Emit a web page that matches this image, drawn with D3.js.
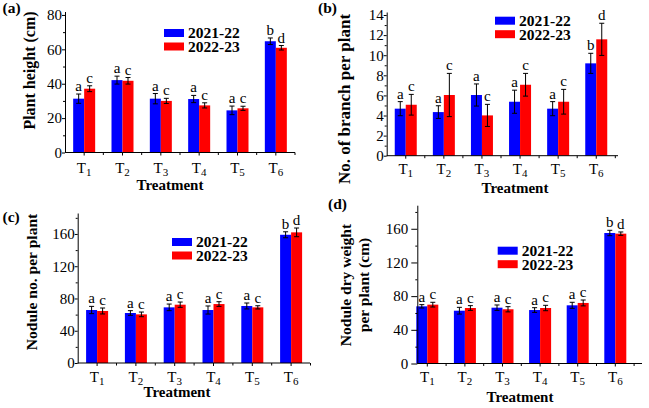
<!DOCTYPE html>
<html>
<head>
<meta charset="utf-8">
<script src="https://cdn.jsdelivr.net/npm/d3@7"></script>
<style>
  body { margin: 0; background: #fff; }
  svg { display: block; }
  text { font-family: "Liberation Serif", "Times New Roman", serif; }
</style>
</head>
<body>
<div id="chart"></div>
<script>
// treatments and the two seasons
const treatments = ["T1", "T2", "T3", "T4", "T5", "T6"];
const seasons = ["2021-22", "2022-23"];
const letters2122 = ["a", "a", "a", "a", "a", "b"];
const letters2223 = ["c", "c", "c", "c", "c", "d"];

// (a) plant height (cm)
const height2122 = [31.3, 42.1, 31.3, 31.1, 24.5, 64.7];
const heightErr2122 = [2.7, 2.3, 3.0, 2.1, 2.5, 1.9];
const height2223 = [37.1, 41.7, 30.0, 27.4, 25.7, 60.9];
const heightErr2223 = [1.7, 1.9, 1.5, 1.5, 1.2, 1.3];

// (b) no. of branch per plant
const branch2122 = [4.68, 4.34, 6.04, 5.37, 4.68, 9.19];
const branchErr2122 = [0.7, 0.63, 1.1, 1.15, 0.7, 1.0];
const branch2223 = [5.07, 6.04, 4.01, 7.06, 5.37, 11.58];
const branchErr2223 = [1.03, 2.15, 1.1, 1.13, 1.23, 1.6];

// (c) nodule no. per plant
const nodule2122 = [65.7, 62.0, 69.0, 65.7, 70.7, 159];
const noduleErr2122 = [4.5, 2.9, 4.1, 5.0, 3.7, 3.7];
const nodule2223 = [64.5, 60.3, 72.3, 73.1, 69.0, 162];
const noduleErr2223 = [3.7, 2.9, 3.3, 2.9, 2.0, 5.4];

// (d) nodule dry weight per plant
const dry2122 = [67.9, 62.7, 66.3, 63.5, 69.1, 155];
const dryErr2122 = [2.0, 4.0, 3.2, 2.8, 3.6, 3.2];
const dry2223 = [69.9, 65.9, 64.4, 65.9, 71.9, 154.2];
const dryErr2223 = [2.8, 2.8, 3.1, 3.2, 3.5, 2.0];

// y tick values
const heightTicks = [0, 20, 40, 60, 80];
const heightMinor = [10, 30, 50, 70];
const branchTicks = [0, 2, 4, 6, 8, 10, 12, 14];
const branchMinor = [1, 3, 5, 7, 9, 11, 13];
const noduleTicks = [0, 40, 80, 120, 160];
const noduleMinor = [20, 60, 100, 140, 180];

const colors = ["#0000ff", "#ff0000"];
const barW = 11;

let svg = d3.select("#chart")
    .append("svg")
    .attr("width", 649)
    .attr("height", 408);

const panels = [
    {tag: "(a)", tagX: 2.5, tagY: 13,
     s1: height2122, e1: heightErr2122, s2: height2223, e2: heightErr2223,
     yMax: 82, yBottom: 152.5, yTop: 11.5, ticks: heightTicks, minor: heightMinor,
     xRange: [65, 295], axisX: 65, axisEnd: 295, tickSize: 3, tickPad: 0,
     tLabelY: 20.5, title: ["Plant height (cm)"], titleX: [34.5], titleY: 70.5, titleSize: 16,
     xLabelX: 170, xLabelY: 190, legX: 164, legY: 29},
    {tag: "(b)", tagX: 318, tagY: 13,
     s1: branch2122, e1: branchErr2122, s2: branch2223, e2: branchErr2223,
     yMax: 14.3, yBottom: 155.7, yTop: 12, ticks: branchTicks, minor: branchMinor,
     xRange: [386.7, 615.3], axisX: 386.7, axisEnd: 618, tickSize: 3, tickPad: 0,
     tLabelY: 18.5, title: ["No. of branch per plant"], titleX: [350], titleY: 99, titleSize: 17,
     xLabelX: 515, xLabelY: 193, legX: 495, legY: 16.7},
    {tag: "(c)", tagX: 2.5, tagY: 221.5,
     s1: nodule2122, e1: noduleErr2122, s2: nodule2223, e2: noduleErr2223,
     yMax: 186, yBottom: 363, yTop: 213, ticks: noduleTicks, minor: noduleMinor,
     xRange: [77.7, 310.5], axisX: 77.7, axisEnd: 310, tickSize: 3, tickPad: 0,
     tLabelY: 19.3, title: ["Nodule no. per plant"], titleX: [37], titleY: 282, titleSize: 15.6,
     xLabelX: 177, xLabelY: 397, legX: 172, legY: 238},
    {tag: "(d)", tagX: 328, tagY: 209,
     s1: dry2122, e1: dryErr2122, s2: dry2223, e2: dryErr2223,
     yMax: 188, yBottom: 363.5, yTop: 205.2, ticks: noduleTicks, minor: noduleMinor,
     xRange: [408.5, 634.1], axisX: 417.3, axisEnd: 642, tickSize: 6, tickPad: 3,
     tLabelY: 18, title: ["Nodule dry weight", "per plant (cm)"], titleX: [351, 369], titleY: 285, titleSize: 15.5,
     xLabelX: 520, xLabelY: 402, legX: 497.7, legY: 246.7}
];

panels.forEach(drawPanel);

function drawPanel(p) {
    let g = svg.append("g");

    let x = d3.scaleBand()
        .domain(treatments)
        .range(p.xRange);
    let y = d3.scaleLinear()
        .domain([0, p.yMax])
        .range([p.yBottom, p.yTop]);
    let cx = d => x(d) + x.bandwidth() / 2;

    // bars, both seasons
    let series = [
        {vals: p.s1, errs: p.e1, letters: letters2122, off: -barW},
        {vals: p.s2, errs: p.e2, letters: letters2223, off: 0}
    ];
    series.forEach(function(s, si) {
        g.append("g").selectAll("rect")
            .data(treatments)
            .enter()
            .append("rect")
            .attr("x", (d) => cx(d) + s.off)
            .attr("y", (d, i) => y(s.vals[i]))
            .attr("width", barW)
            .attr("height", (d, i) => y(0) - y(s.vals[i]))
            .attr("fill", colors[si]);
    });

    // error bars and letters on top
    series.forEach(function(s) {
        let eg = g.append("g").attr("stroke", "#000").attr("stroke-width", 1);
        treatments.forEach(function(t, i) {
            let mx = cx(t) + s.off + barW / 2;
            let top = y(s.vals[i] + s.errs[i]);
            let bot = y(s.vals[i] - s.errs[i]);
            eg.append("line").attr("x1", mx).attr("x2", mx).attr("y1", top).attr("y2", bot);
            eg.append("line").attr("x1", mx - 2.5).attr("x2", mx + 2.5).attr("y1", top).attr("y2", top);
            eg.append("line").attr("x1", mx - 2.5).attr("x2", mx + 2.5).attr("y1", bot).attr("y2", bot);
            g.append("text")
                .attr("x", mx)
                .attr("y", top - 3)
                .attr("text-anchor", "middle")
                .style("font-size", "15px")
                .text(s.letters[i]);
        });
    });

    // y axis with minor ticks
    let gy = g.append("g")
        .attr("transform", `translate(${p.axisX},0)`)
        .call(d3.axisLeft(y).tickValues(p.ticks).tickSize(p.tickSize).tickSizeOuter(0).tickPadding(p.tickPad));
    gy.selectAll("text").style("font-size", "15px").attr("fill", "#000")
        .style("font-family", '"Liberation Serif", "Times New Roman", serif');
    g.append("g")
        .attr("transform", `translate(${p.axisX},0)`)
        .call(d3.axisLeft(y).tickValues(p.minor).tickSize(2).tickSizeOuter(0).tickFormat(""))
        .select(".domain").remove();

    // x axis
    let gx = g.append("g")
        .attr("transform", `translate(0,${y(0)})`)
        .call(d3.axisBottom(x).tickSize(3).tickSizeOuter(0));
    gx.select(".domain").remove();
    gx.append("line")
        .attr("x1", p.axisX).attr("x2", p.axisEnd)
        .attr("stroke", "#000");
    gx.selectAll(".tick text")
        .text(null)
        .attr("y", p.tLabelY)
        .attr("dy", null)
        .attr("fill", "#000")
        .style("font-size", "15px")
        .style("font-family", '"Liberation Serif", "Times New Roman", serif')
        .each(function(d) {
            let t = d3.select(this);
            t.append("tspan").text(d.charAt(0));
            t.append("tspan").attr("dy", 3).style("font-size", "11px").text(d.slice(1));
        });
    // minor ticks between groups
    gx.append("g").selectAll("line")
        .data(treatments.slice(1).concat(["end"]))
        .enter()
        .append("line")
        .attr("x1", d => d === "end" ? p.xRange[1] : x(d))
        .attr("x2", d => d === "end" ? p.xRange[1] : x(d))
        .attr("y1", 0).attr("y2", 2.5)
        .attr("stroke", "#000");

    // axis titles
    p.title.forEach(function(line, li) {
        g.append("text")
            .attr("transform", `translate(${p.titleX[li]},${p.titleY}) rotate(-90)`)
            .attr("text-anchor", "middle")
            .style("font-size", p.titleSize + "px")
            .style("font-weight", "bold")
            .text(line);
    });
    g.append("text")
        .attr("x", p.xLabelX)
        .attr("y", p.xLabelY)
        .attr("text-anchor", "middle")
        .style("font-size", "15px")
        .style("font-weight", "bold")
        .text("Treatment");

    // panel tag
    g.append("text")
        .attr("x", p.tagX)
        .attr("y", p.tagY)
        .style("font-size", "15.5px")
        .style("font-weight", "bold")
        .text(p.tag);

    // legend
    seasons.forEach(function(s, i) {
        g.append("rect")
            .attr("x", p.legX)
            .attr("y", p.legY + i * 13.5)
            .attr("width", 20)
            .attr("height", 8)
            .attr("fill", colors[i]);
        g.append("text")
            .attr("x", p.legX + 24)
            .attr("y", p.legY + 9.3 + i * 13.5)
            .style("font-size", "15.5px")
            .style("font-weight", "bold")
            .text(s);
    });
}
</script>
</body>
</html>
